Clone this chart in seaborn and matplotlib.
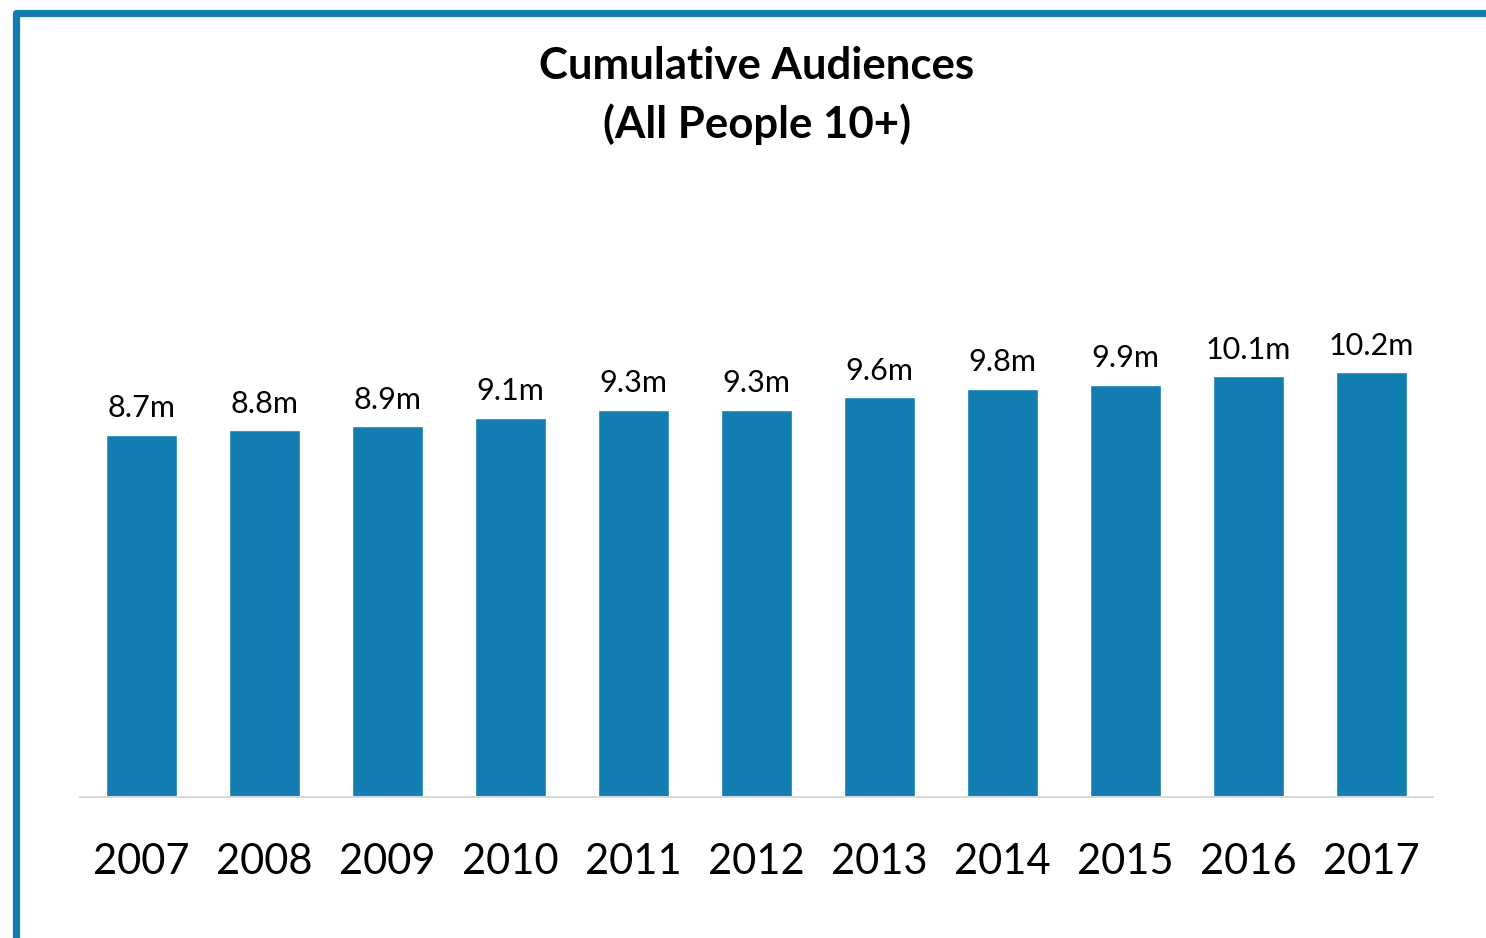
import matplotlib
matplotlib.use("Agg")
import matplotlib.pyplot as plt
from matplotlib.lines import Line2D
import pandas as pd
import seaborn as sns

# Cumulative audience, millions, all people aged 10+
years = ["2007", "2008", "2009", "2010", "2011", "2012",
         "2013", "2014", "2015", "2016", "2017"]
audience_m = [8.7, 8.8, 8.9, 9.1, 9.3, 9.3, 9.6, 9.8, 9.9, 10.1, 10.2]
title_lines = ["Cumulative Audiences", "(All People 10+)"]

BLUE = "#127db0"
W, H = 1486, 938

df = pd.DataFrame({"year": years, "audience": audience_m})

sns.set_theme(style="white")
plt.rcParams["font.family"] = ["Lato", "DejaVu Sans"]

fig = plt.figure(figsize=(W / 100, H / 100), dpi=100)
fig.patch.set_facecolor("white")

ax = fig.add_axes([80 / W, 1 - 797 / H, 1353 / W, 500 / H])
sns.barplot(data=df, x="year", y="audience", color=BLUE, saturation=1,
            width=0.58, ax=ax)
ax.set_xlim(-0.5, len(years) - 0.5)
ax.set_ylim(0, 12)
ax.set_xlabel("")
ax.set_ylabel("")
ax.set_yticks([])
for side in ("top", "right", "left"):
    ax.spines[side].set_visible(False)
ax.spines["bottom"].set_color("#d9d9d9")
ax.spines["bottom"].set_linewidth(1.5)
ax.tick_params(axis="x", length=0, labelsize=30, pad=33, colors="black")

ax.bar_label(ax.containers[0], labels=[f"{v:.1f}m" for v in audience_m],
             padding=9, fontsize=22, color="black")

fig.text(757 / W, 1 - 66 / H, title_lines[0], ha="center", va="center",
         fontsize=31.5, fontweight="bold", color="black")
fig.text(757 / W, 1 - 124 / H, title_lines[1], ha="center", va="center",
         fontsize=31.5, fontweight="bold", color="black")

# Frame along the top and left edges with a rounded corner
frame = Line2D([15.5 / W, 15.5 / W, 1.0], [0.0, 1 - 13.5 / H, 1 - 13.5 / H],
               transform=fig.transFigure, color=BLUE, linewidth=5.2,
               solid_joinstyle="round", solid_capstyle="butt")
fig.add_artist(frame)

fig.savefig("out.png", dpi=100)
